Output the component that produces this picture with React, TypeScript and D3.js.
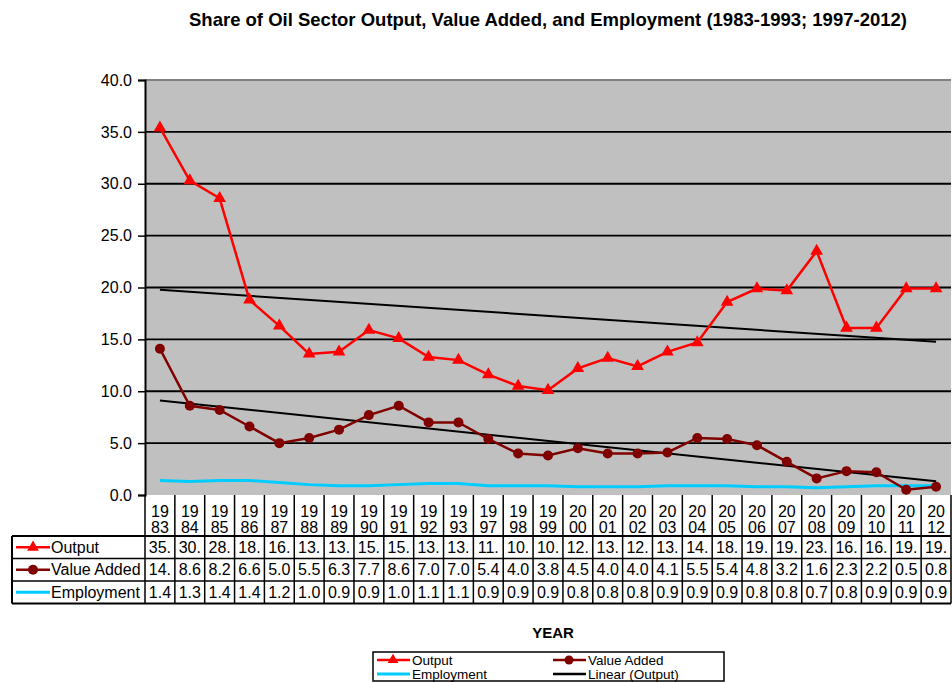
import React, { useRef, useEffect } from 'react';
import * as d3 from 'd3';

const years = ['1983', '1984', '1985', '1986', '1987', '1988', '1989', '1990', '1991', '1992', '1993',
  '1997', '1998', '1999', '2000', '2001', '2002', '2003', '2004', '2005', '2006', '2007', '2008',
  '2009', '2010', '2011', '2012'];
const output = [35.4, 30.3, 28.6, 18.8, 16.3, 13.6, 13.8, 15.9, 15.1, 13.3, 13.0,
  11.6, 10.5, 10.1, 12.2, 13.2, 12.4, 13.8, 14.7, 18.6, 19.9, 19.7, 23.5, 16.1, 16.1, 19.9, 19.9];
const valueAdded = [14.1, 8.6, 8.2, 6.6, 5.0, 5.5, 6.3, 7.7, 8.6, 7.0, 7.0,
  5.4, 4.0, 3.8, 4.5, 4.0, 4.0, 4.1, 5.5, 5.4, 4.8, 3.2, 1.6, 2.3, 2.2, 0.5, 0.8];
const employment = [1.4, 1.3, 1.4, 1.4, 1.2, 1.0, 0.9, 0.9, 1.0, 1.1, 1.1,
  0.9, 0.9, 0.9, 0.8, 0.8, 0.8, 0.9, 0.9, 0.9, 0.8, 0.8, 0.7, 0.8, 0.9, 0.9, 0.9];
const yTicks = [0, 5, 10, 15, 20, 25, 30, 35, 40];

const FONT = 'Arial, "Liberation Sans", sans-serif';

// least squares fit on the category index, like Excel's linear trendline
const linearFit = (vals: number[]) => {
  const xs = vals.map((_, i) => i + 1);
  const mx = d3.mean(xs) as number;
  const my = d3.mean(vals) as number;
  const sxy = d3.sum(xs, (x, i) => (x - mx) * (vals[i] - my));
  const sxx = d3.sum(xs, (x) => (x - mx) * (x - mx));
  const b = sxy / sxx;
  const a = my - b * mx;
  return vals.map((_, i) => a + b * (i + 1));
};

const App = () => {
  const ref = useRef<SVGSVGElement>(null);

  useEffect(() => {
    if (!ref.current) return;
    const svg = d3.select(ref.current);
    svg.selectAll('*').remove();

    const left = 145, right = 951, top = 80, bottom = 495;
    const x = d3.scaleBand().domain(years).range([left, right]);
    const y = d3.scaleLinear().domain([0, 40]).range([bottom, top]);
    const cx = (d: string) => (x(d) as number) + x.bandwidth() / 2;

    // title
    svg.append('text')
      .attr('x', 548).attr('y', 26)
      .attr('text-anchor', 'middle')
      .style('font', `bold 18.5px ${FONT}`)
      .text('Share of Oil Sector Output, Value Added, and Employment (1983-1993; 1997-2012)');

    // plot area
    svg.append('rect')
      .attr('x', left).attr('y', top)
      .attr('width', right - left).attr('height', bottom - top)
      .attr('fill', '#C0C0C0');
    svg.append('line')
      .attr('x1', left).attr('x2', right).attr('y1', top).attr('y2', top)
      .attr('stroke', '#808080').attr('stroke-width', 2);

    // gridlines
    svg.append('g').selectAll('line')
      .data(yTicks.filter((t) => t > 0 && t < 40))
      .join('line')
      .attr('x1', left).attr('x2', right)
      .attr('y1', (d) => y(d)).attr('y2', (d) => y(d))
      .attr('stroke', '#000').attr('stroke-width', 1.8);

    // y axis
    const yAxis = svg.append('g')
      .attr('transform', `translate(${left},0)`)
      .call(d3.axisLeft(y).tickValues(yTicks).tickFormat(d3.format('.1f')).tickSize(7).tickPadding(6));
    yAxis.select('.domain').attr('stroke', '#000').attr('stroke-width', 2);
    yAxis.selectAll('.tick line').attr('stroke', '#000').attr('stroke-width', 1.5);
    yAxis.selectAll('.tick text').style('font', `16px ${FONT}`).attr('fill', '#000');

    // trendlines
    const trend = (vals: number[]) => {
      const fit = linearFit(vals);
      svg.append('line')
        .attr('x1', cx(years[0])).attr('y1', y(fit[0]))
        .attr('x2', cx(years[years.length - 1])).attr('y2', y(fit[fit.length - 1]))
        .attr('stroke', '#000').attr('stroke-width', 2);
    };
    trend(output);
    trend(valueAdded);

    const line = d3.line<number>()
      .x((_, i) => cx(years[i]))
      .y((d) => y(d));

    // employment
    svg.append('path')
      .datum(employment)
      .attr('d', line)
      .attr('fill', 'none').attr('stroke', '#00CCFF').attr('stroke-width', 3);

    // value added
    svg.append('path')
      .datum(valueAdded)
      .attr('d', line)
      .attr('fill', 'none').attr('stroke', '#800000').attr('stroke-width', 2.5);
    svg.append('g').selectAll('circle')
      .data(valueAdded)
      .join('circle')
      .attr('cx', (_, i) => cx(years[i]))
      .attr('cy', (d) => y(d))
      .attr('r', 5)
      .attr('fill', '#800000');

    // output
    svg.append('path')
      .datum(output)
      .attr('d', line)
      .attr('fill', 'none').attr('stroke', '#FF0000').attr('stroke-width', 2.5);
    const tri = d3.symbol().type(d3.symbolTriangle).size(70);
    svg.append('g').selectAll('path')
      .data(output)
      .join('path')
      .attr('d', tri)
      .attr('transform', (d, i) => `translate(${cx(years[i])},${y(d)})`)
      .attr('fill', '#FF0000');

    // data table
    const tLeft = 12, headBottom = 536, rowH = 22.5;
    const rows = [
      { name: 'Output', vals: output, color: '#FF0000', marker: 'tri' },
      { name: 'Value Added', vals: valueAdded, color: '#800000', marker: 'circle' },
      { name: 'Employment', vals: employment, color: '#00CCFF', marker: 'dash' },
    ];
    const tBottom = headBottom + rows.length * rowH;
    const table = svg.append('g');
    const fmt = (v: number) => {
      const s = v.toFixed(1);
      return s.length > 3 ? s.slice(0, 3) : s;
    };

    years.forEach((yr) => {
      const c = cx(yr);
      table.append('text').attr('x', c).attr('y', 517).attr('text-anchor', 'middle')
        .style('font', `16px ${FONT}`).text(yr.slice(0, 2));
      table.append('text').attr('x', c).attr('y', 533).attr('text-anchor', 'middle')
        .style('font', `16px ${FONT}`).text(yr.slice(2));
    });

    rows.forEach((r, ri) => {
      const ty = headBottom + ri * rowH + rowH / 2 + 5.5;
      r.vals.forEach((v, i) => {
        table.append('text').attr('x', cx(years[i])).attr('y', ty).attr('text-anchor', 'middle')
          .style('font', `16px ${FONT}`).text(fmt(v));
      });
      const my = headBottom + ri * rowH + rowH / 2;
      table.append('line').attr('x1', 16).attr('x2', 50).attr('y1', my).attr('y2', my)
        .attr('stroke', r.color).attr('stroke-width', r.marker === 'dash' ? 3 : 2.5);
      if (r.marker === 'tri') {
        table.append('path').attr('d', d3.symbol().type(d3.symbolTriangle).size(60))
          .attr('transform', `translate(33,${my})`).attr('fill', r.color);
      } else if (r.marker === 'circle') {
        table.append('circle').attr('cx', 33).attr('cy', my).attr('r', 5).attr('fill', r.color);
      }
      table.append('text').attr('x', 51).attr('y', ty)
        .style('font', `16px ${FONT}`).text(r.name);
    });

    // table grid
    const bounds = years.map((yr) => x(yr) as number).concat([right]);
    bounds.forEach((bx) => {
      table.append('line').attr('x1', bx).attr('x2', bx).attr('y1', bottom).attr('y2', tBottom)
        .attr('stroke', '#000').attr('stroke-width', 1.5);
    });
    table.append('line').attr('x1', tLeft).attr('x2', tLeft).attr('y1', headBottom).attr('y2', tBottom)
      .attr('stroke', '#000').attr('stroke-width', 2);
    d3.range(rows.length + 1).forEach((k) => {
      const ly = headBottom + k * rowH;
      table.append('line').attr('x1', tLeft).attr('x2', right).attr('y1', ly).attr('y2', ly)
        .attr('stroke', '#000').attr('stroke-width', k === 0 || k === rows.length ? 2 : 1.5);
    });

    // axis title
    svg.append('text')
      .attr('x', 553).attr('y', 638).attr('text-anchor', 'middle')
      .style('font', `bold 15px ${FONT}`).text('YEAR');

    // legend
    const lg = svg.append('g');
    lg.append('rect').attr('x', 373).attr('y', 652).attr('width', 351).attr('height', 29)
      .attr('fill', '#fff').attr('stroke', '#000').attr('stroke-width', 1.5);
    const legendItems = [
      { name: 'Output', color: '#FF0000', marker: 'tri', lx: 377, ly: 660 },
      { name: 'Value Added', color: '#800000', marker: 'circle', lx: 553, ly: 660 },
      { name: 'Employment', color: '#00CCFF', marker: 'dash', lx: 377, ly: 674 },
      { name: 'Linear (Output)', color: '#000', marker: 'none', lx: 553, ly: 674 },
    ];
    legendItems.forEach((it) => {
      lg.append('line').attr('x1', it.lx).attr('x2', it.lx + 33).attr('y1', it.ly).attr('y2', it.ly)
        .attr('stroke', it.color).attr('stroke-width', it.marker === 'dash' ? 3 : 2.5);
      if (it.marker === 'tri') {
        lg.append('path').attr('d', d3.symbol().type(d3.symbolTriangle).size(50))
          .attr('transform', `translate(${it.lx + 16},${it.ly})`).attr('fill', it.color);
      } else if (it.marker === 'circle') {
        lg.append('circle').attr('cx', it.lx + 16).attr('cy', it.ly).attr('r', 4.5).attr('fill', it.color);
      }
      lg.append('text').attr('x', it.lx + 35).attr('y', it.ly + 5)
        .style('font', `13.5px ${FONT}`).text(it.name);
    });
  }, []);

  return (
    <svg ref={ref} width={952} height={682}
      style={{ position: 'absolute', left: 0, top: 0, background: '#fff' }} />
  );
};

export default App;
